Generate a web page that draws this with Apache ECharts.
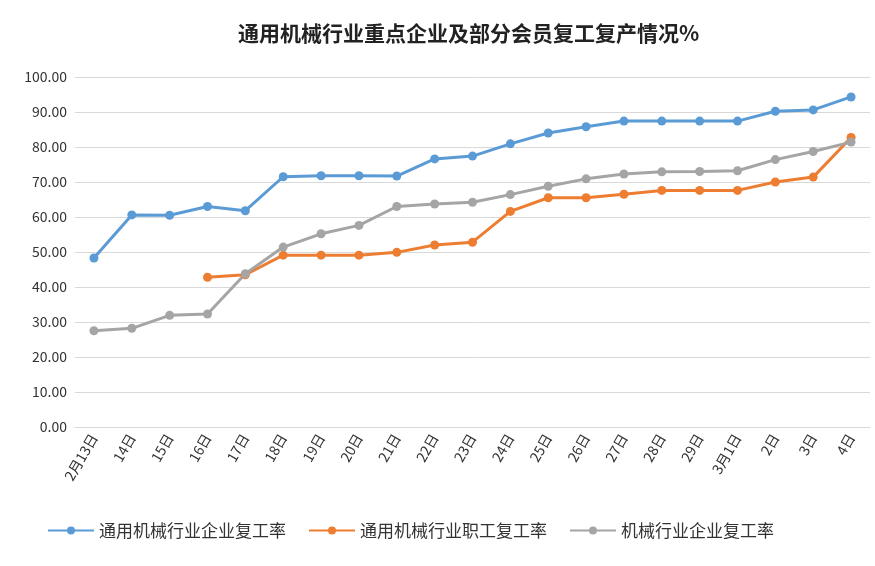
<!DOCTYPE html>
<html><head><meta charset="utf-8">
<script src="https://cdn.jsdelivr.net/npm/echarts@6/dist/echarts.min.js"></script>
<style>html,body{margin:0;padding:0;background:#fff}#c{width:875px;height:566px}</style>
</head><body><div id="c"></div>
<script>
var categories = ['2月13日','14日','15日','16日','17日','18日','19日','20日','21日','22日','23日','24日','25日','26日','27日','28日','29日','3月1日','2日','3日','4日'];
var qiyeRate = [48.3, 60.6, 60.5, 63.0, 61.8, 71.5, 71.8, 71.8, 71.7, 76.6, 77.4, 80.9, 84.0, 85.8, 87.4, 87.4, 87.4, 87.4, 90.2, 90.6, 94.3];
var zhigongRate = [null, null, null, 42.8, 43.5, 49.1, 49.1, 49.1, 49.9, 52.0, 52.8, 61.6, 65.5, 65.5, 66.5, 67.6, 67.6, 67.6, 70.0, 71.4, 82.7];
var jixieRate = [27.5, 28.2, 31.9, 32.3, 43.8, 51.4, 55.2, 57.6, 63.0, 63.7, 64.2, 66.4, 68.8, 70.9, 72.3, 72.9, 73.0, 73.2, 76.4, 78.7, 81.4];
var names = ['通用机械行业企业复工率', '通用机械行业职工复工率', '机械行业企业复工率'];
var colors = ['#5b9bd5', '#ed7d31', '#a5a5a5'];

var myChart = echarts.init(document.getElementById('c'));
function line(name, data, color) {
    return {
        name: name, type: 'line', data: data, symbol: 'circle', symbolSize: 9,
        lineStyle: {width: 3, color: color}, itemStyle: {color: color}
    };
}
option = {
    textStyle: {fontFamily: 'Noto Sans CJK SC'},
    title: {
        text: '通用机械行业重点企业及部分会员复工复产情况%',
        left: 233, top: 18,
        textStyle: {fontSize: 21, fontWeight: 'bold', color: '#222'}
    },
    legend: {
        bottom: 22, left: 42, itemWidth: 46, itemHeight: 10, itemGap: 22,
        textStyle: {fontSize: 17, color: '#333'},
        data: names
    },
    grid: {left: 75, right: 5, top: 77, bottom: 139},
    xAxis: {
        type: 'category', data: categories, boundaryGap: true,
        axisLine: {lineStyle: {color: '#d9d9d9'}},
        axisTick: {show: false},
        axisLabel: {rotate: 60, color: '#333', fontSize: 14, interval: 0}
    },
    yAxis: {
        type: 'value', min: 0, max: 100, interval: 10,
        axisLine: {show: false}, axisTick: {show: false},
        splitLine: {lineStyle: {color: '#d9d9d9'}},
        axisLabel: {color: '#333', fontSize: 14, formatter: function (v) { return v.toFixed(2); }}
    },
    series: [
        line(names[0], qiyeRate, colors[0]),
        line(names[1], zhigongRate, colors[1]),
        line(names[2], jixieRate, colors[2])
    ]
};
myChart.setOption(option);
</script></body></html>
